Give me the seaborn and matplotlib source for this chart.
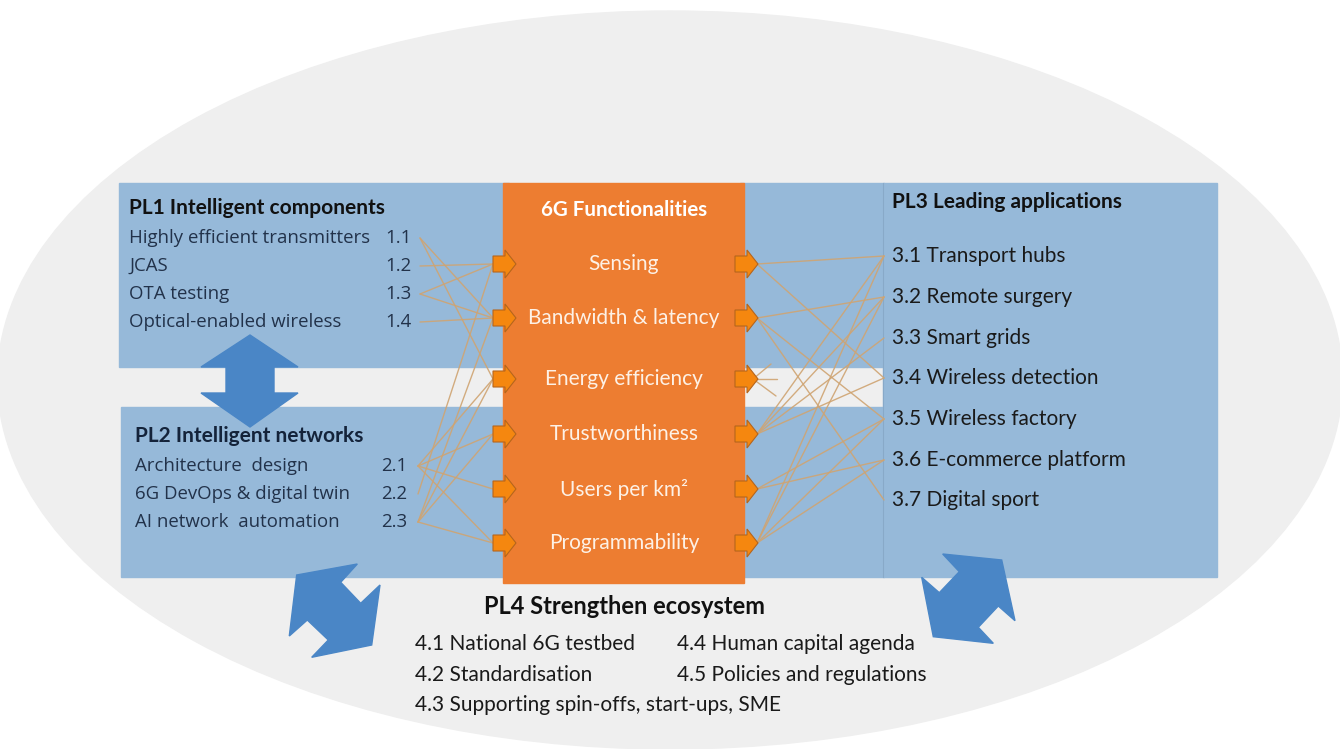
import numpy as np
import pandas as pd
import matplotlib
matplotlib.use("Agg")
import matplotlib.pyplot as plt
import seaborn as sns
from matplotlib.patches import Ellipse, Rectangle, Polygon

# --- diagram content ---
pl1_items = ["Highly efficient transmitters", "JCAS", "OTA testing", "Optical-enabled wireless"]
pl1_codes = ["1.1", "1.2", "1.3", "1.4"]
pl2_items = ["Architecture  design", "6G DevOps & digital twin", "AI network  automation"]
pl2_codes = ["2.1", "2.2", "2.3"]
functionalities = ["Sensing", "Bandwidth & latency", "Energy efficiency",
                   "Trustworthiness", "Users per km\u00b2", "Programmability"]
pl3_items = ["3.1 Transport hubs", "3.2 Remote surgery", "3.3 Smart grids",
             "3.4 Wireless detection", "3.5 Wireless factory",
             "3.6 E-commerce platform", "3.7 Digital sport"]
pl4_left = ["4.1 National 6G testbed", "4.2 Standardisation",
            "4.3 Supporting spin-offs, start-ups, SME"]
pl4_right = ["4.4 Human capital agenda", "4.5 Policies and regulations"]

# links: PL item code -> functionality index
left_links = {
    "1.1": [1, 2],
    "1.2": [0],
    "1.3": [0, 1],
    "1.4": [1],
    "2.1": [2, 3, 4, 5],
    "2.2": [0],
    "2.3": [1, 2, 3, 5],
}
# links: functionality index -> PL3 item index
right_links = {
    0: [0, 3],
    1: [1, 4, 6],
    3: [0, 1, 2, 3],
    4: [4, 5],
    5: [0, 1, 4, 5],
}

# --- layout ---
W, H = 1340, 749
pl1_y = [238, 266, 294, 322]
pl2_y = [466, 494, 522]
func_y = [264, 318, 379, 434, 489, 543]
pl3_y = [256, 297, 338, 378, 419, 460, 500]

BOX_BLUE = "#96b9d9"
ARROW_BLUE = "#4a86c6"
ORANGE = "#ed7d31"
SMALL_ORANGE = "#f5870f"
LINK = "#cfa472"
GREY = "#efefef"

sns.set_theme(style="white")
plt.rcParams["font.family"] = ["Lato", "DejaVu Sans"]

fig = plt.figure(figsize=(W / 100, H / 100), dpi=100)
ax = fig.add_axes([0, 0, 1, 1])
ax.set_xlim(0, W)
ax.set_ylim(H, 0)
ax.axis("off")

ax.add_patch(Ellipse((670, 380), 1345, 738, color=GREY, zorder=0))

# blue boxes
ax.add_patch(Rectangle((119, 183), 390, 184, color=BOX_BLUE, zorder=1))
ax.add_patch(Rectangle((121, 407), 388, 170, color=BOX_BLUE, zorder=1))
ax.add_patch(Rectangle((740, 183), 144, 184, color=BOX_BLUE, zorder=1))
ax.add_patch(Rectangle((740, 407), 144, 170, color=BOX_BLUE, zorder=1))
ax.add_patch(Rectangle((883, 183), 334, 394, color=BOX_BLUE, zorder=1))
ax.plot([883, 883], [183, 577], color="#88a9c8", lw=0.8, zorder=1.1)

# orange column
ax.add_patch(Rectangle((503, 183), 241, 400, color=ORANGE, zorder=2))


def small_arrow(x0, yc):
    pts = [(x0, yc - 8), (x0 + 12, yc - 8), (x0 + 12, yc - 14), (x0 + 23, yc),
           (x0 + 12, yc + 14), (x0 + 12, yc + 8), (x0, yc + 8)]
    ax.add_patch(Polygon(pts, closed=True, facecolor=SMALL_ORANGE,
                         edgecolor="#b5651d", lw=0.8, zorder=4))


for yc in func_y:
    small_arrow(493, yc)
    small_arrow(735, yc)

# connection lines through seaborn
rows = []
k = 0
for codes, ys, xs in [(pl1_codes, pl1_y, 420), (pl2_codes, pl2_y, 418)]:
    for code, y in zip(codes, ys):
        for f in left_links[code]:
            rows += [(k, xs, y), (k, 493, func_y[f])]
            k += 1
for f, targets in right_links.items():
    for t in targets:
        rows += [(k, 757, func_y[f]), (k, 884, pl3_y[t])]
        k += 1
# short stubs at energy efficiency
for dx, dy in [(18, -15), (24, 0), (23, 17)]:
    rows += [(k, 753, func_y[2]), (k, 753 + dx, func_y[2] + dy)]
    k += 1
links = pd.DataFrame(rows, columns=["link", "x", "y"])
sns.lineplot(data=links, x="x", y="y", units="link", estimator=None, sort=False,
             color=LINK, lw=1, alpha=0.9, legend=False, ax=ax, zorder=3)
ax.set_xlim(0, W)
ax.set_ylim(H, 0)
ax.axis("off")

# big blue arrows
ax.add_patch(Polygon([(250, 335), (298, 367), (274, 367), (274, 393), (298, 393),
                      (250, 427), (201, 393), (226, 393), (226, 367), (201, 367)],
                     closed=True, color=ARROW_BLUE, zorder=5))
ax.add_patch(Polygon([(296.7, 575), (357.3, 564), (340.7, 582.3), (360.7, 603.3),
                      (380, 585), (371.7, 645), (311.7, 657.3), (328.3, 640),
                      (307.3, 620), (289.3, 636)],
                     closed=True, color=ARROW_BLUE, zorder=5))
ax.add_patch(Polygon([(942.7, 554), (1001.7, 560), (1015, 620.7), (998.3, 606),
                      (978.3, 627.3), (993.3, 643.3), (933.3, 636.7), (921.7, 577.3),
                      (939.3, 592.7), (959.3, 571.7)],
                     closed=True, color=ARROW_BLUE, zorder=5))

# texts
ITEM_FONT = ["Open Sans", "DejaVu Sans"]
NAVY = "#22324a"
ax.text(129, 208, "PL1 Intelligent components", fontsize=15, fontweight="bold",
        color="#111111", va="center", zorder=6)
for name, code, y in zip(pl1_items, pl1_codes, pl1_y):
    ax.text(129, y, name, fontsize=13.4, family=ITEM_FONT, color=NAVY, va="center", zorder=6)
    ax.text(412, y, code, fontsize=13.4, family=ITEM_FONT, color=NAVY, va="center",
            ha="right", zorder=6)

ax.text(135, 436, "PL2 Intelligent networks", fontsize=15, fontweight="bold",
        color="#14233a", va="center", zorder=6)
for name, code, y in zip(pl2_items, pl2_codes, pl2_y):
    ax.text(135, y, name, fontsize=13.4, family=ITEM_FONT, color=NAVY, va="center", zorder=6)
    ax.text(407, y, code, fontsize=13.4, family=ITEM_FONT, color=NAVY, va="center",
            ha="right", zorder=6)

ax.text(624, 210, "6G Functionalities", fontsize=14.8, fontweight="bold",
        color="white", ha="center", va="center", zorder=6)
for name, y in zip(functionalities, func_y):
    ax.text(624, y, name, fontsize=15, color="#fdf1e6", ha="center", va="center", zorder=6)

ax.text(892, 202, "PL3 Leading applications", fontsize=15, fontweight="bold",
        color="#111111", va="center", zorder=6)
for name, y in zip(pl3_items, pl3_y):
    ax.text(892, y, name, fontsize=15, color="#1a1a1a", va="center", zorder=6)

ax.text(624, 607, "PL4 Strengthen ecosystem", fontsize=17, fontweight="bold",
        color="#111111", ha="center", va="center", zorder=6)
for name, y in zip(pl4_left, [644, 675, 705]):
    ax.text(415, y, name, fontsize=15, color="#1a1a1a", va="center", zorder=6)
for name, y in zip(pl4_right, [644, 675]):
    ax.text(677, y, name, fontsize=15, color="#1a1a1a", va="center", zorder=6)

fig.savefig("out.png", dpi=100, facecolor="white")
